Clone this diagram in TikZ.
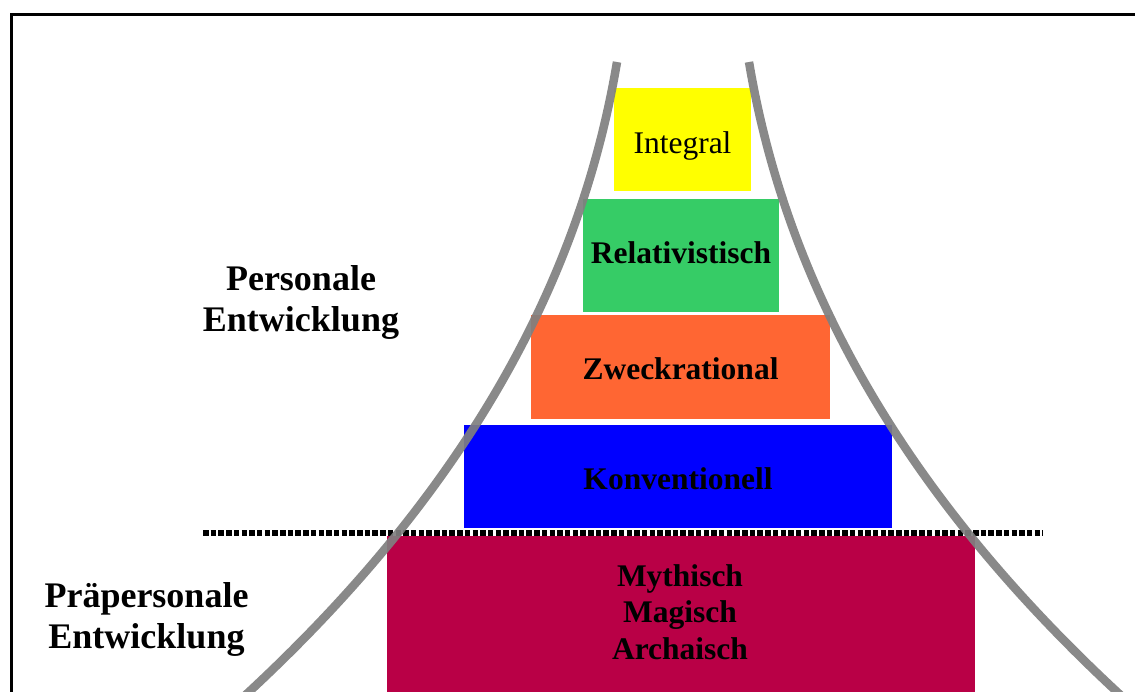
\documentclass[tikz,border=0pt]{standalone}
\usepackage{fontspec}
\setmainfont{Liberation Serif}
\definecolor{cyel}{RGB}{255,255,0}
\definecolor{cgreen}{RGB}{54,204,102}
\definecolor{corange}{RGB}{255,102,51}
\definecolor{cblue}{RGB}{0,0,255}
\definecolor{cmag}{RGB}{185,0,70}
\definecolor{cgray}{RGB}{128,128,128}
\begin{document}
\begin{tikzpicture}[x=1pt,y=-1pt,
  declare function={tt(\y)=(\y-62)/628; dd(\y)=66+105.76*tt(\y)+212.56*tt(\y)^2+47.68*tt(\y)^3;},
  levelbox/.style={draw=none,inner sep=0pt,text depth=0pt,font=\fontsize{31.5}{36.5}\selectfont\bfseries},
  headtext/.style={inner sep=0pt,align=center,font=\fontsize{36}{41}\selectfont\bfseries},
  curveline/.style={draw=cgray,line width=8.5pt,opacity=0.92},
  boundary/.style={line width=6pt,dash pattern=on 5.5pt off 2.2pt}]
\useasboundingbox (0,0) rectangle (1135,691);
\begin{scope}
\clip (0,0) rectangle (1135,691);
\fill[white] (0,0) rectangle (1135,691);
% frame
\draw[line width=3.2pt] (11.5,720) -- (11.5,14.8) -- (1160,14.8);
% level boxes
\node[levelbox,fill=cyel,minimum width=137pt,minimum height=103pt,text height=27pt] (integral) at (682.5,139.5) {\mdseries Integral};
\node[levelbox,fill=cgreen,minimum width=196pt,minimum height=113pt,text height=15pt] (relat) at (681,255.5) {Relativistisch};
\node[levelbox,fill=corange,minimum width=299pt,minimum height=104pt,text height=24.6pt] (zweck) at (680.5,367) {Zweckrational};
\node[levelbox,fill=cblue,minimum width=428pt,minimum height=103pt,text height=25.6pt] (konv) at (678,476.5) {Konventionell};
\node[levelbox,fill=cmag,minimum width=588pt,minimum height=170pt] (prae) at (681,621) {};
\node[levelbox,align=center,text depth=] (praetext) at (680,612) {Mythisch\\Magisch\\Archaisch};
% boundary line
\coordinate (bl) at (203,533);
\coordinate (br) at (1043,533);
\draw[boundary] (bl) -- (br);
% side labels
\node[headtext] (personal) at (301,302) {Personale\\Entwicklung};
\node[headtext] (praepersonal) at (146.5,619) {Präpersonale\\Entwicklung};
% curves
\draw[curveline] plot[domain=62:725,samples=100] ({683-dd(\x)},\x);
\draw[curveline] plot[domain=62:725,samples=100] ({683+dd(\x)},\x);
\end{scope}
\end{tikzpicture}
\end{document}
